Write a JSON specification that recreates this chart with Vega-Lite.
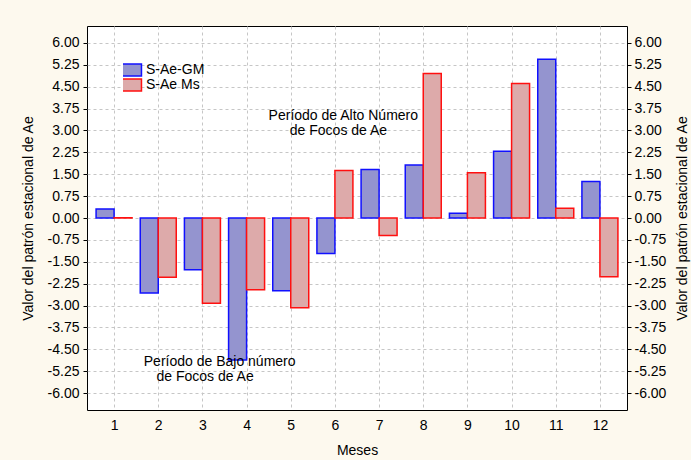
{
  "$schema": "https://vega.github.io/schema/vega-lite/v6.json",
  "autosize": {"type": "none"},
  "padding": {"left": 87, "top": 26, "right": 64, "bottom": 50},
  "width": 540,
  "height": 384,
  "background": "#fdf9ee",
  "config": {
    "font": "Liberation Sans",
    "view": {"fill": "#ffffff", "stroke": "#000000", "strokeWidth": 1},
    "axis": {
      "labelFont": "Liberation Sans",
      "labelFontSize": 14,
      "labelColor": "#000000",
      "titleFont": "Liberation Sans",
      "titleFontSize": 14,
      "titleFontWeight": "normal",
      "titleColor": "#000000",
      "domain": false,
      "tickColor": "#000000",
      "gridColor": "#c6c6c6",
      "gridDash": [3, 3],
      "gridWidth": 1
    },
    "axisX": {
      "values": [1, 2, 3, 4, 5, 6, 7, 8, 9, 10, 11, 12],
      "format": "d",
      "title": "Meses",
      "grid": true,
      "ticks": false,
      "labelPadding": 8,
      "titlePadding": 11
    },
    "legend": {
      "labelFont": "Liberation Sans",
      "labelFontSize": 14,
      "labelColor": "#000000"
    }
  },
  "datasets": {
    "barras": [
      {"mes": 1, "serie": "S-Ae-GM", "valor": 0.31},
      {"mes": 2, "serie": "S-Ae-GM", "valor": -2.57},
      {"mes": 3, "serie": "S-Ae-GM", "valor": -1.77},
      {"mes": 4, "serie": "S-Ae-GM", "valor": -4.87},
      {"mes": 5, "serie": "S-Ae-GM", "valor": -2.49},
      {"mes": 6, "serie": "S-Ae-GM", "valor": -1.22},
      {"mes": 7, "serie": "S-Ae-GM", "valor": 1.66},
      {"mes": 8, "serie": "S-Ae-GM", "valor": 1.82},
      {"mes": 9, "serie": "S-Ae-GM", "valor": 0.16},
      {"mes": 10, "serie": "S-Ae-GM", "valor": 2.29},
      {"mes": 11, "serie": "S-Ae-GM", "valor": 5.44},
      {"mes": 12, "serie": "S-Ae-GM", "valor": 1.25},
      {"mes": 1, "serie": "S-Ae Ms", "valor": 0.01},
      {"mes": 2, "serie": "S-Ae Ms", "valor": -2.03},
      {"mes": 3, "serie": "S-Ae Ms", "valor": -2.92},
      {"mes": 4, "serie": "S-Ae Ms", "valor": -2.46},
      {"mes": 5, "serie": "S-Ae Ms", "valor": -3.08},
      {"mes": 6, "serie": "S-Ae Ms", "valor": 1.63},
      {"mes": 7, "serie": "S-Ae Ms", "valor": -0.6},
      {"mes": 8, "serie": "S-Ae Ms", "valor": 4.95},
      {"mes": 9, "serie": "S-Ae Ms", "valor": 1.55},
      {"mes": 10, "serie": "S-Ae Ms", "valor": 4.61},
      {"mes": 11, "serie": "S-Ae Ms", "valor": 0.33},
      {"mes": 12, "serie": "S-Ae Ms", "valor": -2.01}
    ],
    "notas": [
      {"mes": 6.19, "valor": 3.51, "texto": "Período de Alto Número"},
      {"mes": 6.08, "valor": 2.97, "texto": "de Focos de Ae"},
      {"mes": 3.39, "valor": -4.95, "texto": "Período de Bajo número"},
      {"mes": 3.06, "valor": -5.45, "texto": "de Focos de Ae"}
    ]
  },
  "layer": [
    {
      "data": {"name": "barras"},
      "transform": [{"filter": "datum.serie === 'S-Ae-GM'"}],
      "mark": {"type": "bar", "width": 18, "xOffset": -9, "strokeWidth": 1.5},
      "encoding": {
        "x": {
          "field": "mes",
          "type": "quantitative",
          "title": "Meses",
          "scale": {"domain": [0.5, 12.5], "nice": false, "zero": false}
        },
        "y": {
          "field": "valor",
          "type": "quantitative",
          "scale": {"domain": [-6.58, 6.58], "nice": false, "zero": false},
          "axis": {
            "orient": "left",
            "values": [-6, -5.25, -4.5, -3.75, -3, -2.25, -1.5, -0.75, 0, 0.75, 1.5, 2.25, 3, 3.75, 4.5, 5.25, 6],
            "labelExpr": "replace(format(datum.value, '.2f'), '−', '-')",
            "title": "Valor del patrón estacional de Ae",
            "grid": true,
            "tickSize": 4,
            "labelPadding": 4,
            "titlePadding": 12
          }
        },
        "fill": {
          "field": "serie",
          "type": "nominal",
          "scale": {"domain": ["S-Ae-GM", "S-Ae Ms"], "range": ["#9494cf", "#ddaaaa"]},
          "legend": {
            "title": null,
            "orient": "none",
            "legendX": 36,
            "legendY": 36.5,
            "symbolType": "M-1.33,-0.8H1.33V0.8H-1.33Z",
            "symbolSize": 225,
            "symbolStrokeWidth": 1.5,
            "labelOffset": 6,
            "clipHeight": 15,
            "rowPadding": 0
          }
        },
        "stroke": {
          "field": "serie",
          "type": "nominal",
          "scale": {"domain": ["S-Ae-GM", "S-Ae Ms"], "range": ["#1010ff", "#ff1010"]},
          "legend": {
            "title": null,
            "orient": "none",
            "legendX": 36,
            "legendY": 36.5,
            "symbolType": "M-1.33,-0.8H1.33V0.8H-1.33Z",
            "symbolSize": 225,
            "symbolStrokeWidth": 1.5,
            "labelOffset": 6,
            "clipHeight": 15,
            "rowPadding": 0
          }
        }
      }
    },
    {
      "data": {"name": "barras"},
      "transform": [{"filter": "datum.serie === 'S-Ae Ms'"}],
      "mark": {"type": "bar", "width": 18, "xOffset": 9, "strokeWidth": 1.5},
      "encoding": {
        "x": {"field": "mes", "type": "quantitative", "title": "Meses"},
        "y": {
          "field": "valor",
          "type": "quantitative",
          "axis": {
            "orient": "right",
            "values": [-6, -5.25, -4.5, -3.75, -3, -2.25, -1.5, -0.75, 0, 0.75, 1.5, 2.25, 3, 3.75, 4.5, 5.25, 6],
            "labelExpr": "replace(format(datum.value, '.2f'), '−', '-')",
            "title": "Valor del patrón estacional de Ae",
            "titleAngle": 270,
            "grid": false,
            "tickSize": 4,
            "labelPadding": 3,
            "titlePadding": 24
          }
        },
        "fill": {"field": "serie", "type": "nominal"},
        "stroke": {"field": "serie", "type": "nominal"}
      }
    },
    {
      "data": {"name": "notas"},
      "mark": {"type": "text", "font": "Liberation Sans", "fontSize": 14, "color": "#000000", "align": "center", "baseline": "middle"},
      "encoding": {
        "x": {"field": "mes", "type": "quantitative", "title": "Meses"},
        "y": {"field": "valor", "type": "quantitative", "axis": null},
        "text": {"field": "texto"}
      }
    }
  ],
  "resolve": {"axis": {"y": "independent"}}
}
